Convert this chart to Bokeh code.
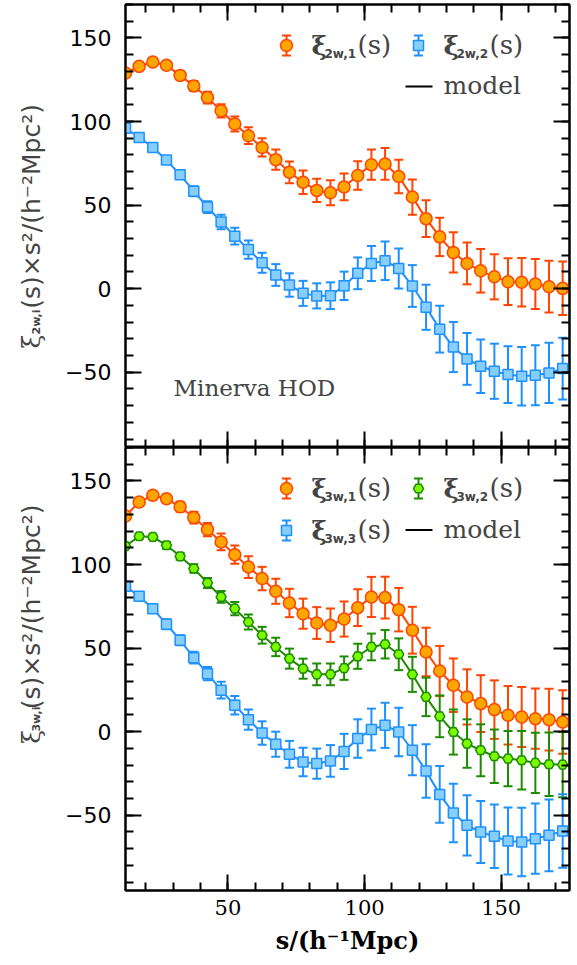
import math
from bokeh.plotting import figure
from bokeh.layouts import column, row
from bokeh.models import Label, LinearAxis, SingleIntervalTicker, Range1d, ColumnDataSource
from bokeh.embed import file_html
from bokeh.resources import INLINE

# ---------------- data ----------------
s = [12.5, 17.5, 22.5, 27.5, 32.5, 37.5, 42.5, 47.5, 52.5, 57.5, 62.5,
     67.5, 72.5, 77.5, 82.5, 87.5, 92.5, 97.5, 102.5, 107.5, 112.5, 117.5,
     122.5, 127.5, 132.5, 137.5, 142.5, 147.5, 152.5, 157.5, 162.5, 167.5, 172.5]

xi2w1 = [129, 133, 135.6, 133.6, 127.6, 121.3, 114.3, 106.4, 98.5, 91.5, 84.5,
         77.2, 69.6, 63.7, 58.8, 57.4, 60.9, 67.7, 74.2, 74.6, 67.1, 54.8,
         41.9, 31.0, 21.7, 15.1, 10.7, 7.1, 4.2, 3.8, 2.8, 1.2, 0.2]
err2w1 = [1.5, 1.5, 2, 2, 2.5, 3, 3.5, 4, 4.5, 5, 5.5,
          6, 6.5, 7, 7, 7.5, 8, 8.5, 9, 9.5, 10, 10.5,
          11, 11.5, 12, 12.5, 13, 13.5, 14, 14.5, 15, 15.5, 16]

xi2w2 = [96, 90.5, 84.5, 77.0, 68.1, 58.3, 48.8, 39.9, 31.4, 23.4, 15.5,
         8.2, 2.2, -2.8, -4.3, -4.2, 1.7, 9.2, 15.1, 16.7, 12.1, 1.6,
         -11.1, -24.2, -34.9, -42.0, -46.4, -49.4, -51.4, -52.4, -51.8, -50.4, -47.8]
err2w2 = [1.5, 1.5, 2, 2, 2.5, 3, 3.5, 4.3, 5, 5.5, 6,
          6.5, 7, 7.5, 7.5, 8, 8.5, 9.5, 10.5, 11.5, 12, 12.5,
          13.5, 14, 15, 15.5, 16, 16.5, 17, 17.5, 18, 18, 18.5]

xi3w1 = [129, 137.4, 141.4, 139.4, 134.5, 128.1, 120.9, 113.5, 105.9, 98.5, 91.6,
         84.0, 77.0, 70.6, 65.0, 63.7, 67.4, 74.2, 80.6, 80.2, 73.0, 60.7,
         47.7, 36.3, 27.8, 20.8, 16.8, 13.2, 9.8, 8.8, 7.8, 7.2, 5.8]
err3w1 = [1.5, 2, 2.5, 2.5, 3, 3.5, 4, 5, 5.5, 6.5, 7,
          7.5, 8.5, 9, 9.5, 10, 10.5, 11, 12, 12.5, 13, 14,
          14.5, 15, 16, 16.5, 17, 17.5, 17.5, 18, 18, 18.5, 19]

xi3w2 = [111, 116.9, 116.5, 111.5, 104.9, 97.6, 89.0, 80.6, 73.6, 65.6, 57.7,
         50.7, 43.7, 37.7, 34.3, 34.3, 38.0, 45.1, 50.7, 52.3, 46.3, 34.3,
         20.8, 9.2, -0.2, -7.1, -11.1, -14.7, -16.1, -17.1, -18.7, -19.5, -19.7]
err3w2 = [1, 1.5, 1.5, 2, 2, 2.5, 3, 3.5, 4, 4.5, 5,
          5.5, 6, 6, 6.5, 6.5, 7, 7.5, 8, 8.5, 9.5, 10.5,
          11.5, 12.5, 13.5, 14.5, 15.5, 16, 16.5, 17.5, 18, 19, 19.5]

xi3w3 = [87, 81.0, 73.6, 64.3, 54.7, 44.3, 34.7, 24.8, 15.8, 7.2, -0.8,
         -7.5, -13.5, -18.1, -19.1, -17.5, -11.8, -4.1, 1.3, 3.8, -0.2, -11.1,
         -23.5, -37.5, -48.6, -56.0, -60.0, -62.6, -65.4, -66.0, -64.0, -62.0, -59.4]
err3w3 = [2, 2, 2.5, 3, 3, 3.5, 4, 5, 5.5, 6, 7,
          7.5, 8, 8.5, 9, 9.5, 10.5, 11.5, 12.5, 13.5, 14.5, 15,
          16, 17, 17.5, 18, 18.5, 19, 20, 20.5, 21, 21.5, 22]

# ---------------- styling ----------------
ORANGE_LINE, ORANGE_FILL = "#FF4500", "#FFA500"
BLUE_LINE, BLUE_FILL = "#1E90FF", "#87CEFA"
GREEN_LINE, GREEN_FILL = "#1E8C00", "#7CFC00"

XR = (12.5, 175.0)
YR = (-95.0, 170.0)
FRAME_W, FRAME_H = 444, 443
LAB_W = 60          # width of the strip holding the rotated y label
TOP_PAD = 4
BOTTOM_PAD = 70

SERIF = "DejaVu Serif"
SANS = "DejaVu Sans"


def rx(px):
    """reference pixel column -> data x"""
    return XR[0] + (px - 125.0) * (XR[1] - XR[0]) / 444.0


def ry(py_rel):
    """reference pixel offset below frame top -> data y"""
    return YR[1] - py_rel * (YR[1] - YR[0]) / 443.0


def unit_y(px):
    return px * (YR[1] - YR[0]) / FRAME_H


def make_fig(bottom):
    p = figure(frame_width=FRAME_W, frame_height=FRAME_H,
               x_range=Range1d(*XR), y_range=Range1d(*YR),
               output_backend="svg", toolbar_location=None,
               x_axis_location=None, y_axis_location=None,
               min_border_left=125 - LAB_W, min_border_right=4,
               min_border_top=0 if bottom else TOP_PAD,
               min_border_bottom=BOTTOM_PAD if bottom else 0)
    p.grid.visible = False
    p.outline_line_color = "black"
    p.outline_line_width = 2
    p.background_fill_color = "white"
    p.border_fill_color = "white"

    for loc in ["left", "right", "above", "below"]:
        ax = LinearAxis(ticker=SingleIntervalTicker(interval=50, num_minor_ticks=5))
        ax.axis_line_color = "black"
        ax.axis_line_width = 2
        ax.major_tick_in = 16
        ax.major_tick_out = 0
        ax.minor_tick_in = 8
        ax.minor_tick_out = 0
        ax.major_tick_line_width = 2
        ax.minor_tick_line_width = 2
        ax.major_tick_line_color = "black"
        ax.minor_tick_line_color = "black"
        show = (loc == "left") or (loc == "below" and bottom)
        if show:
            ax.major_label_text_color = "black"
            if loc == "left":
                ax.major_label_text_font = SANS
                ax.major_label_text_font_size = "22px"
                ax.major_label_standoff = 14
                ax.major_label_overrides = {-50: "\u221250"}
            else:
                ax.major_label_text_font = SERIF
                ax.major_label_text_font_size = "21px"
                ax.major_label_standoff = 9
                ax.axis_label = "s/(h\u207b\u00b9Mpc)"
                ax.axis_label_text_font = SERIF
                ax.axis_label_text_font_size = "24px"
                ax.axis_label_text_font_style = "bold"
                ax.axis_label_text_color = "black"
                ax.axis_label_standoff = 8
        else:
            ax.major_label_text_color = None
            ax.major_label_text_alpha = 0
            ax.major_label_text_font_size = "1px"
            ax.major_label_standoff = 0
        p.add_layout(ax, loc)
    return p


def make_label_strip(height):
    """narrow figure carrying the rotated y-axis label; coordinates in pixels"""
    q = figure(width=LAB_W, height=height, x_range=Range1d(0, LAB_W),
               y_range=Range1d(0, height), output_backend="svg",
               toolbar_location=None, x_axis_location=None, y_axis_location=None,
               min_border=0)
    q.grid.visible = False
    q.outline_line_color = None
    q.background_fill_color = "white"
    q.border_fill_color = "white"
    q.scatter([0], [0], size=0, fill_alpha=0, line_alpha=0)
    return q


def ylabel(q, height, frame_top, sub):
    ang = math.pi / 2

    def yy(py_rel):
        return height - frame_top - py_rel

    q.add_layout(Label(x=31, y=yy(343), text="\u03be", text_font=SERIF,
                       text_font_size="25px", angle=ang,
                       text_baseline="middle", text_align="left"))
    q.add_layout(Label(x=36, y=yy(329), text=sub, text_font=SANS,
                       text_font_size="11px", text_font_style="bold", angle=ang,
                       text_baseline="middle", text_align="left"))
    q.add_layout(Label(x=31, y=yy(303), text="(s)\u00d7s\u00b2/(h\u207b\u00b2Mpc\u00b2)",
                       text_font=SANS, text_font_size="25px", angle=ang,
                       text_baseline="middle", text_align="left"))


def draw_series(p, y, err, lc, fc, marker, size):
    lo = [a - e for a, e in zip(y, err)]
    hi = [a + e for a, e in zip(y, err)]
    src = ColumnDataSource(dict(s=s, y=y, lo=lo, hi=hi))
    p.line("s", "y", source=src, line_color=lc, line_width=2)
    p.segment(x0="s", y0="lo", x1="s", y1="hi", source=src, line_color=lc, line_width=2)
    p.scatter("s", "lo", source=src, marker="dash", size=9, line_color=lc, line_width=2)
    p.scatter("s", "hi", source=src, marker="dash", size=9, line_color=lc, line_width=2)
    p.scatter("s", "y", source=src, marker=marker, size=size, line_color=lc,
              fill_color=fc, line_width=1.5)


def legend_symbol(p, px, py_rel, lc, fc, marker, size):
    x = rx(px)
    y = ry(py_rel)
    e = unit_y(10)
    p.segment(x0=[x], y0=[y - e], x1=[x], y1=[y + e], line_color=lc, line_width=2)
    p.scatter([x, x], [y - e, y + e], marker="dash", size=9, line_color=lc, line_width=2)
    p.scatter([x], [y], marker=marker, size=size, line_color=lc, fill_color=fc, line_width=1.5)


def xi_text(p, px, mid_rel, sub):
    p.add_layout(Label(x=rx(px), y=ry(mid_rel + 1), text="\u03be", text_font=SERIF,
                       text_font_size="26px", text_font_style="bold",
                       text_baseline="middle", text_align="left"))
    p.add_layout(Label(x=rx(px + 13), y=ry(mid_rel + 8.5), text=sub, text_font=SANS,
                       text_font_size="12px", text_font_style="bold",
                       text_baseline="middle", text_align="left"))
    p.add_layout(Label(x=rx(px + 46), y=ry(mid_rel), text="(s)", text_font=SERIF,
                       text_font_size="26px",
                       text_baseline="middle", text_align="left"))


def model_entry(p, mid_rel):
    y = ry(mid_rel + 1)
    p.line([rx(405), rx(432)], [y, y], line_color="black", line_width=2)
    p.add_layout(Label(x=rx(443), y=ry(mid_rel), text="model", text_font=SERIF,
                       text_font_size="25px", text_baseline="middle", text_align="left"))


# ---------------- top panel ----------------
p1 = make_fig(bottom=False)
draw_series(p1, xi2w1, err2w1, ORANGE_LINE, ORANGE_FILL, "circle", 12)
draw_series(p1, xi2w2, err2w2, BLUE_LINE, BLUE_FILL, "square", 10)
legend_symbol(p1, 286, 41, ORANGE_LINE, ORANGE_FILL, "circle", 12)
xi_text(p1, 311, 40.5, "2w,1")
legend_symbol(p1, 418, 41, BLUE_LINE, BLUE_FILL, "square", 10)
xi_text(p1, 443, 40.5, "2w,2")
model_entry(p1, 81)
p1.add_layout(Label(x=rx(173), y=ry(383.5), text="Minerva HOD", text_font=SERIF,
                    text_font_size="23px", text_baseline="middle", text_align="left"))

H1 = TOP_PAD + FRAME_H
q1 = make_label_strip(H1)
ylabel(q1, H1, TOP_PAD, "2w,i")

# ---------------- bottom panel ----------------
p2 = make_fig(bottom=True)
draw_series(p2, xi3w1, err3w1, ORANGE_LINE, ORANGE_FILL, "circle", 12)
draw_series(p2, xi3w2, err3w2, GREEN_LINE, GREEN_FILL, "hex", 10)
draw_series(p2, xi3w3, err3w3, BLUE_LINE, BLUE_FILL, "square", 10)
legend_symbol(p2, 286, 41, ORANGE_LINE, ORANGE_FILL, "circle", 12)
xi_text(p2, 311, 40.5, "3w,1")
legend_symbol(p2, 418, 41, GREEN_LINE, GREEN_FILL, "hex", 10)
xi_text(p2, 443, 40.5, "3w,2")
legend_symbol(p2, 286, 83, BLUE_LINE, BLUE_FILL, "square", 10)
xi_text(p2, 311, 82.5, "3w,3")
model_entry(p2, 81.5)

H2 = FRAME_H + BOTTOM_PAD
q2 = make_label_strip(H2)
ylabel(q2, H2, 0, "3w,i")

layout = column(row(q1, p1, spacing=0), row(q2, p2, spacing=0), spacing=0)
open("out.html", "w").write(file_html(layout, INLINE))
